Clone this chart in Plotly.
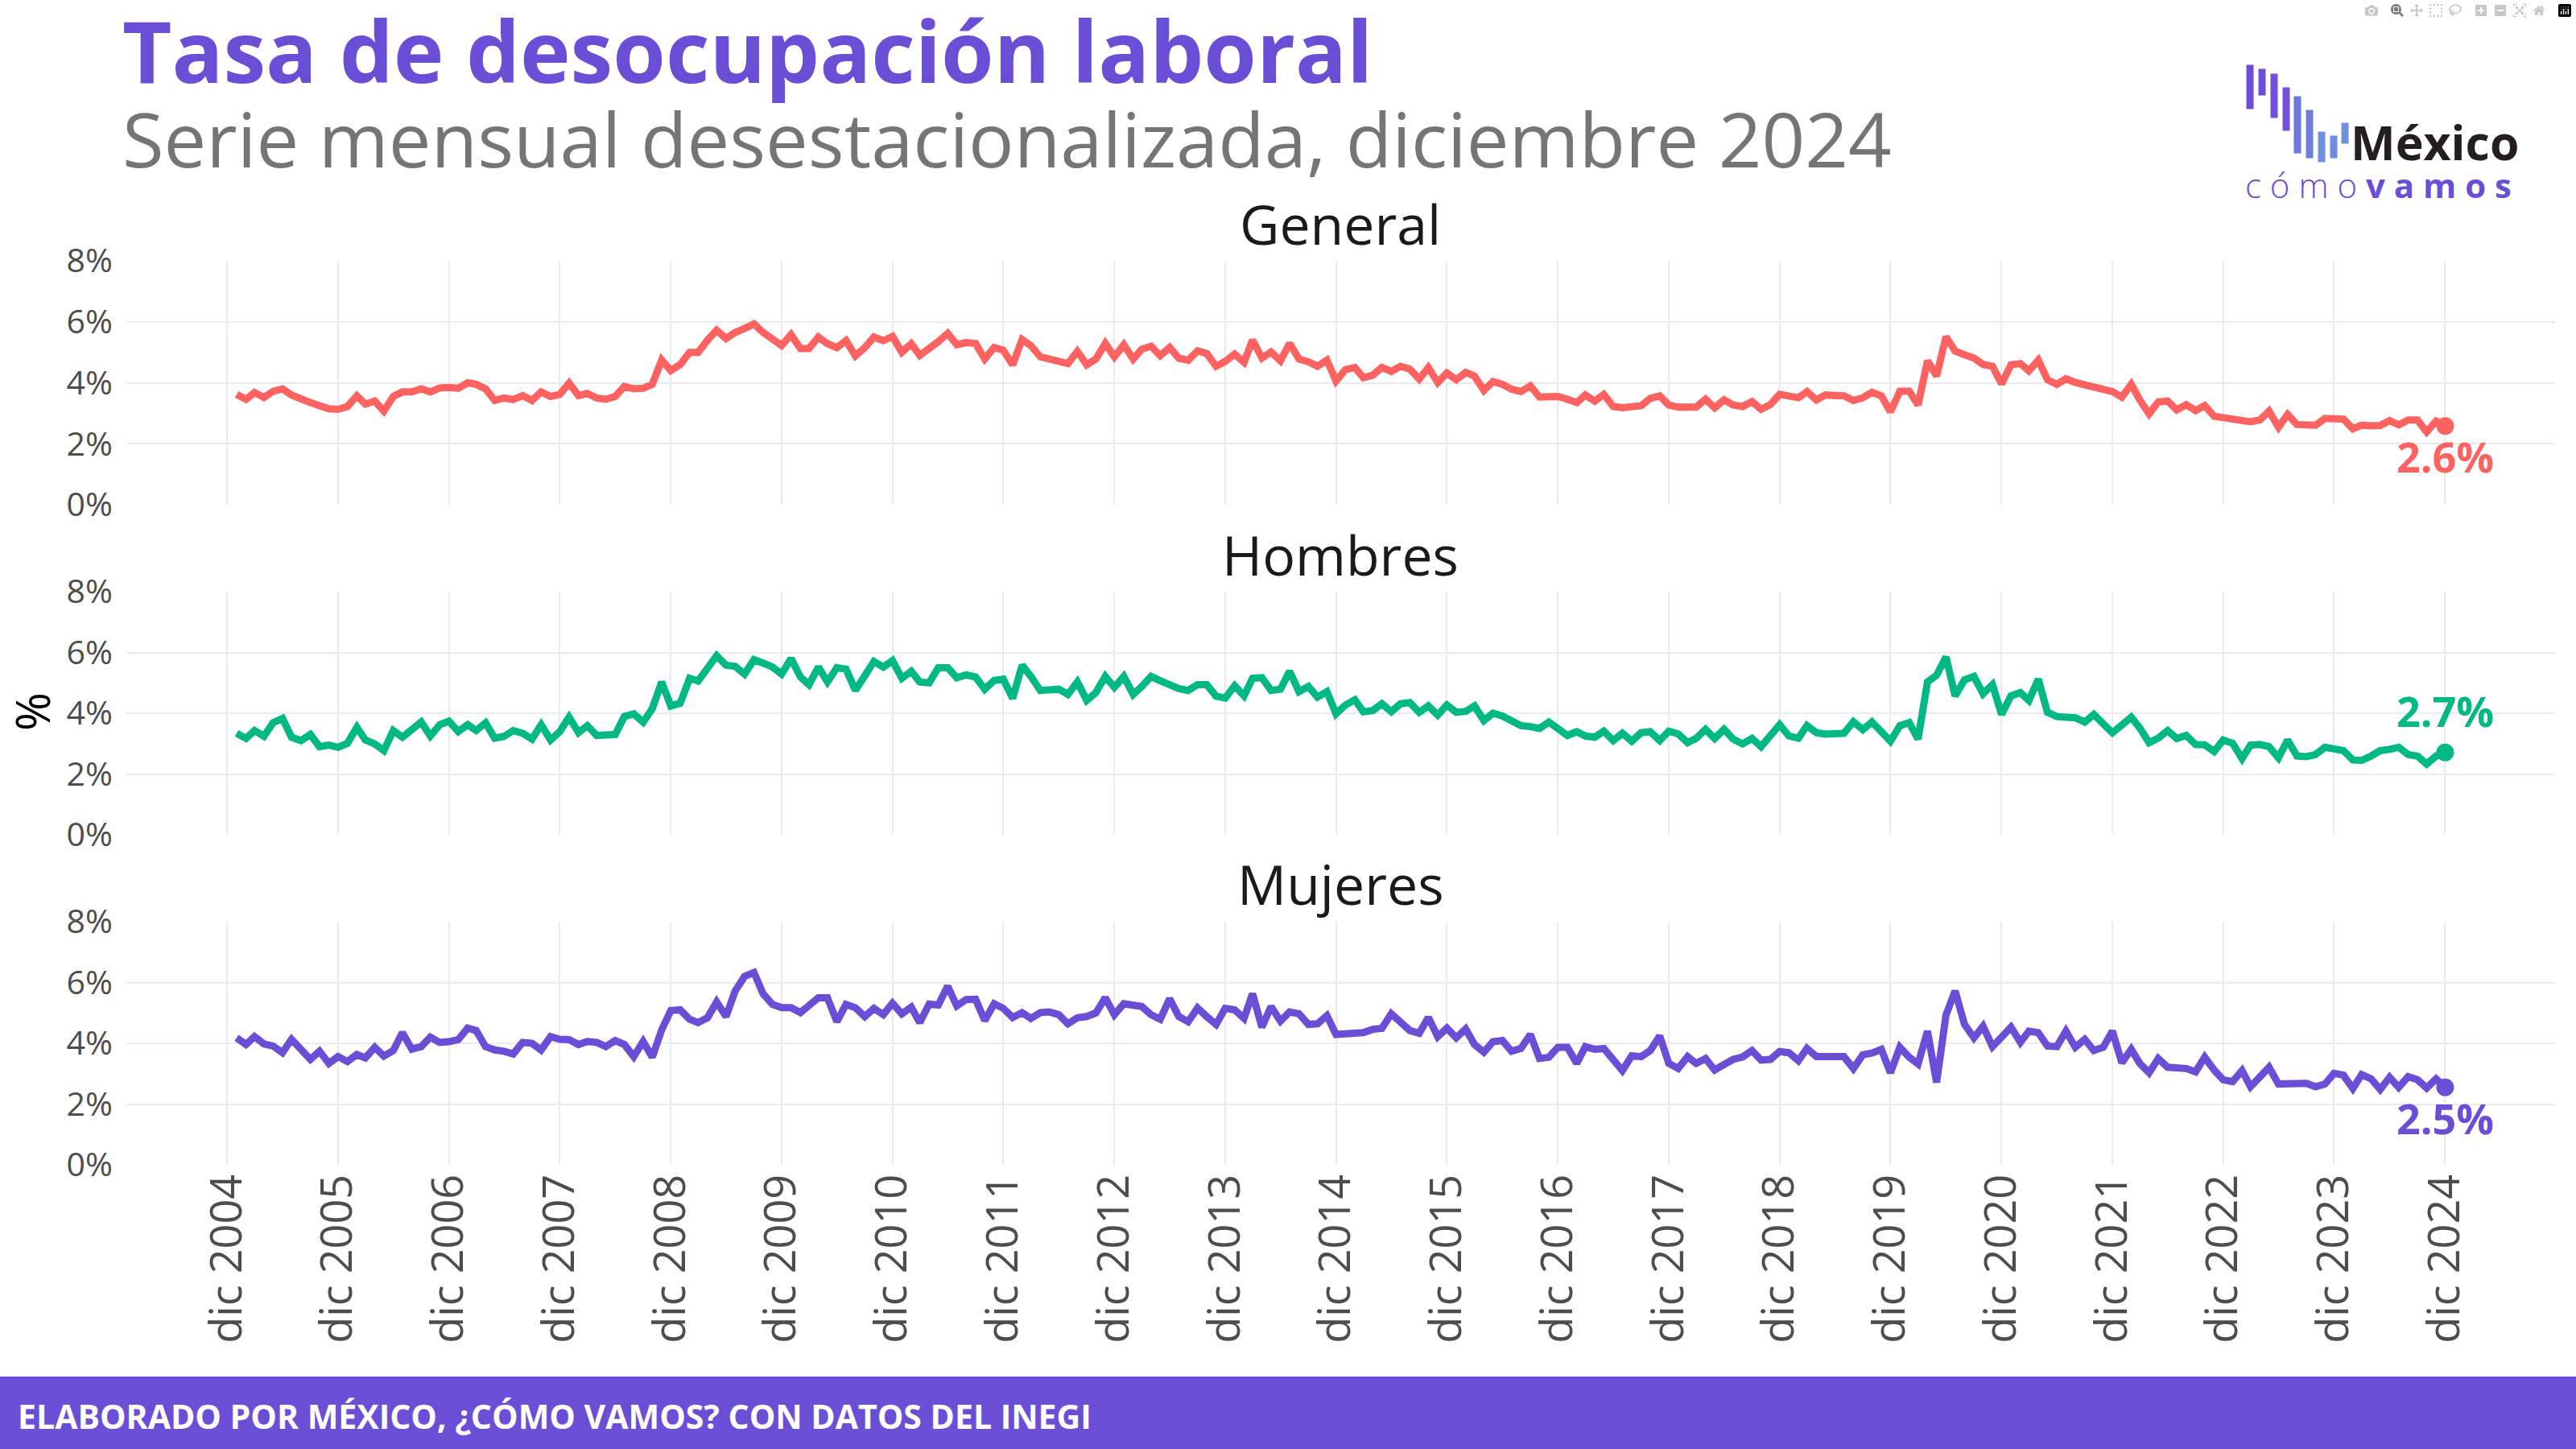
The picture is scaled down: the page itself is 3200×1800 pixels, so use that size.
import plotly.graph_objects as go
import pandas as pd

W, H = 3200, 1800

# ---------------- DATA ----------------
meses = pd.date_range("2005-01-01", "2024-12-01", freq="MS")

general = [
    3.62, 3.46, 3.68, 3.52, 3.72, 3.80, 3.60, 3.45, 3.35, 3.25, 3.15, 3.13,
    3.22, 3.57, 3.30, 3.40, 3.07, 3.55, 3.70, 3.70, 3.80, 3.70, 3.83, 3.85,
    3.82, 4.00, 3.95, 3.80, 3.42, 3.50, 3.45, 3.58, 3.42, 3.70, 3.55, 3.62,
    3.99, 3.58, 3.65, 3.50, 3.46, 3.55, 3.88, 3.80, 3.82, 3.95, 4.75, 4.40,
    4.60, 5.00, 5.00, 5.40, 5.72, 5.45, 5.65, 5.78, 5.93, 5.65, 5.40, 5.22,
    5.58, 5.12, 5.12, 5.50, 5.28, 5.15, 5.38, 4.88, 5.15, 5.50, 5.38, 5.52,
    5.00, 5.28, 4.90, 5.10, 5.35, 5.62, 5.25, 5.32, 5.29, 4.78, 5.16, 5.07,
    4.59, 5.42, 5.22, 4.85, 4.78, 4.76, 4.63, 5.03, 4.59, 4.78, 5.29, 4.85,
    5.25, 4.78, 5.10, 5.20, 4.89, 5.16, 4.81, 4.74, 5.05, 4.96, 4.54, 4.70,
    4.94, 4.67, 5.40, 4.81, 5.01, 4.72, 5.29, 4.78, 4.69, 4.54, 4.74, 4.06,
    4.43, 4.50, 4.17, 4.25, 4.50, 4.37, 4.54, 4.45, 4.12, 4.50, 4.01, 4.32,
    4.10, 4.34, 4.22, 3.75, 4.04, 3.95, 3.79, 3.71, 3.90, 3.53, 3.55, 3.55,
    3.46, 3.35, 3.60, 3.40, 3.62, 3.22, 3.18, 3.22, 3.25, 3.49, 3.57, 3.27,
    3.20, 3.20, 3.20, 3.46, 3.18, 3.44, 3.27, 3.22, 3.38, 3.13, 3.29, 3.62,
    3.55, 3.51, 3.71, 3.44, 3.60, 3.60, 3.57, 3.42, 3.51, 3.69, 3.57, 3.05,
    3.72, 3.72, 3.27, 4.72, 4.22, 5.51, 5.04, 4.92, 4.81, 4.60, 4.54, 3.97,
    4.59, 4.63, 4.39, 4.74, 4.10, 3.95, 4.13, 4.01, 3.94, 3.86, 3.79, 3.71,
    3.53, 3.95, 3.44, 2.98, 3.37, 3.40, 3.11, 3.28, 3.09, 3.25, 2.90, 2.87,
    2.83, 2.78, 2.72, 2.78, 3.07, 2.54, 2.96, 2.63, 2.61, 2.61, 2.83, 2.84,
    2.81, 2.49, 2.61, 2.59, 2.60, 2.76, 2.62, 2.78, 2.78, 2.39, 2.74, 2.58,
]

hombres = [
    3.34, 3.17, 3.43, 3.24, 3.69, 3.83, 3.21, 3.10, 3.30, 2.90, 2.95, 2.88,
    3.01, 3.54, 3.12, 2.99, 2.77, 3.43, 3.21, 3.47, 3.71, 3.25, 3.62, 3.74,
    3.40, 3.62, 3.43, 3.68, 3.18, 3.24, 3.43, 3.34, 3.15, 3.62, 3.12, 3.39,
    3.87, 3.36, 3.59, 3.27, 3.30, 3.30, 3.89, 3.98, 3.71, 4.15, 5.03, 4.24,
    4.33, 5.15, 5.06, 5.50, 5.89, 5.58, 5.54, 5.29, 5.76, 5.65, 5.52, 5.29,
    5.80, 5.19, 4.94, 5.52, 5.03, 5.50, 5.45, 4.75, 5.26, 5.70, 5.52, 5.73,
    5.15, 5.38, 5.03, 5.00, 5.50, 5.50, 5.17, 5.26, 5.19, 4.79, 5.08, 5.12,
    4.49, 5.58, 5.21, 4.75, 4.77, 4.79, 4.62, 5.03, 4.42, 4.68, 5.21, 4.85,
    5.21, 4.62, 4.88, 5.21, 5.07, 4.94, 4.81, 4.75, 4.94, 4.94, 4.56, 4.50,
    4.90, 4.57, 5.15, 5.17, 4.75, 4.79, 5.38, 4.71, 4.88, 4.53, 4.71, 3.98,
    4.27, 4.44, 4.05, 4.09, 4.31, 4.05, 4.31, 4.35, 4.03, 4.24, 3.94, 4.27,
    4.03, 4.06, 4.24, 3.76, 4.00, 3.91, 3.76, 3.59, 3.56, 3.50, 3.71, 3.47,
    3.27, 3.39, 3.25, 3.21, 3.41, 3.10, 3.34, 3.08, 3.36, 3.39, 3.10, 3.41,
    3.32, 3.03, 3.17, 3.47, 3.17, 3.47, 3.15, 2.99, 3.17, 2.90, 3.24, 3.62,
    3.25, 3.18, 3.59, 3.36, 3.31, 3.34, 3.34, 3.72, 3.46, 3.71, 3.43, 3.08,
    3.59, 3.69, 3.15, 5.03, 5.25, 5.85, 4.57, 5.10, 5.21, 4.64, 4.94, 3.96,
    4.57, 4.68, 4.42, 5.12, 4.03, 3.89, 3.87, 3.85, 3.71, 3.96, 3.65, 3.36,
    3.61, 3.87, 3.52, 3.03, 3.18, 3.43, 3.17, 3.27, 2.97, 2.96, 2.74, 3.12,
    3.01, 2.51, 2.95, 2.97, 2.90, 2.53, 3.12, 2.59, 2.57, 2.64, 2.88, 2.81,
    2.77, 2.46, 2.45, 2.59, 2.77, 2.81, 2.88, 2.64, 2.59, 2.33, 2.59, 2.71,
]

mujeres = [
    4.18, 3.96, 4.22, 3.98, 3.91, 3.69, 4.13, 3.83, 3.47, 3.74, 3.34, 3.56,
    3.40, 3.63, 3.52, 3.87, 3.58, 3.76, 4.35, 3.81, 3.89, 4.20, 4.03, 4.05,
    4.12, 4.50, 4.42, 3.89, 3.78, 3.74, 3.65, 4.03, 4.00, 3.78, 4.22, 4.13,
    4.12, 3.96, 4.06, 4.03, 3.89, 4.09, 3.96, 3.56, 4.06, 3.54, 4.44, 5.08,
    5.10, 4.79, 4.68, 4.84, 5.36, 4.88, 5.72, 6.20, 6.33, 5.63, 5.28, 5.17,
    5.17, 5.01, 5.26, 5.50, 5.50, 4.71, 5.28, 5.17, 4.88, 5.15, 4.94, 5.32,
    4.97, 5.19, 4.68, 5.29, 5.26, 5.88, 5.23, 5.44, 5.45, 4.75, 5.30, 5.15,
    4.85, 5.01, 4.82, 5.01, 5.03, 4.94, 4.64, 4.84, 4.88, 5.00, 5.50, 4.94,
    5.30, 5.23, 5.21, 4.94, 4.79, 5.47, 4.88, 4.71, 5.16, 4.88, 4.62, 5.15,
    5.10, 4.82, 5.63, 4.53, 5.21, 4.73, 5.03, 4.97, 4.62, 4.64, 4.91, 4.29,
    4.31, 4.31, 4.35, 4.46, 4.49, 4.97, 4.73, 4.42, 4.33, 4.85, 4.22, 4.50,
    4.18, 4.47, 3.96, 3.71, 4.05, 4.09, 3.74, 3.83, 4.29, 3.50, 3.54, 3.87,
    3.87, 3.34, 3.89, 3.80, 3.83, 3.50, 3.10, 3.59, 3.56, 3.76, 4.24, 3.34,
    3.17, 3.56, 3.34, 3.50, 3.12, 3.30, 3.47, 3.55, 3.76, 3.45, 3.47, 3.73,
    3.69, 3.43, 3.83, 3.56, 3.56, 3.56, 3.56, 3.17, 3.62, 3.68, 3.80, 3.03,
    3.87, 3.54, 3.32, 4.40, 2.71, 4.93, 5.72, 4.62, 4.18, 4.56, 3.89, 4.20,
    4.53, 4.03, 4.40, 4.35, 3.91, 3.89, 4.40, 3.87, 4.13, 3.76, 3.87, 4.40,
    3.36, 3.80, 3.34, 3.03, 3.50, 3.21, 3.18, 3.17, 3.06, 3.54, 3.12, 2.80,
    2.74, 3.10, 2.57, 2.86, 3.21, 2.66, 2.66, 2.66, 2.68, 2.57, 2.66, 3.01,
    2.95, 2.51, 2.97, 2.83, 2.48, 2.88, 2.55, 2.90, 2.80, 2.53, 2.83, 2.55,
]

paneles = ["General", "Hombres", "Mujeres"]
series = [general, hombres, mujeres]
etiquetas_final = ["2.6%", "2.7%", "2.5%"]
tick_fechas = pd.date_range("2004-12-01", "2024-12-01", freq="12MS")
tick_textos = [f"dic {a}" for a in range(2004, 2025)]
y_ticks = [0, 2, 4, 6, 8]
y_tick_textos = ["0%", "2%", "4%", "6%", "8%"]

titulo = "Tasa de desocupación laboral"
subtitulo = "Serie mensual desestacionalizada, diciembre 2024"
pie = "ELABORADO POR MÉXICO, ¿CÓMO VAMOS? CON DATOS DEL INEGI"

# ---------------- STYLE ----------------
colores = ["#ff6361", "#00b884", "#6a4fd6"]
morado = "#6a4fd6"
FONT = "Open Sans"


def fx(p):
    return p / W


def fy(p):
    return 1 - p / H


x_dom = [fx(157), fx(3174)]
panel_px = [(324, 627), (735, 1037), (1145, 1447)]
titulo_panel_px = [278, 688, 1097]
label_shift = [-37, 52, -38]
x_range = ["2004-01-04", "2025-11-28"]

fig = go.Figure()
layout = dict(
    width=W, height=H,
    margin=dict(l=0, r=0, t=0, b=0, autoexpand=False),
    paper_bgcolor="white", plot_bgcolor="white",
    showlegend=False,
    font=dict(family=FONT),
)

annotations = []
shapes = []

for i, (nombre, serie, col) in enumerate(zip(paneles, series, colores)):
    sfx = "" if i == 0 else str(i + 1)
    xa, ya = "x" + sfx, "y" + sfx
    fig.add_trace(go.Scatter(
        x=meses, y=serie, mode="lines",
        line=dict(color=col, width=9),
        xaxis=xa, yaxis=ya, hoverinfo="skip",
    ))
    fig.add_trace(go.Scatter(
        x=[meses[-1]], y=[serie[-1]], mode="markers",
        marker=dict(color=col, size=22),
        xaxis=xa, yaxis=ya, hoverinfo="skip",
    ))
    top, bot = panel_px[i]
    last = i == 2
    layout["xaxis" + sfx] = dict(
        domain=x_dom, anchor=ya, type="date", range=x_range,
        tickmode="array", tickvals=tick_fechas,
        ticktext=tick_textos if last else [""] * len(tick_textos),
        showticklabels=last, tickangle=-90,
        tickfont=dict(size=54, color="#4d4d4d", family=FONT),
        ticks="", showgrid=True, gridcolor="#ebebeb", gridwidth=2,
        zeroline=False, showline=False, automargin=False,
    )
    layout["yaxis" + sfx] = dict(
        domain=[fy(bot), fy(top)], anchor=xa, range=[0, 8],
        tickmode="array", tickvals=y_ticks, ticktext=y_tick_textos,
        tickfont=dict(size=41, color="#4d4d4d", family=FONT),
        ticks="outside", ticklen=8, tickcolor="rgba(0,0,0,0)",
        showgrid=True, gridcolor="#ebebeb", gridwidth=2,
        zeroline=False, showline=False, automargin=False,
    )
    annotations.append(dict(
        text=nombre, xref="paper", yref="paper",
        x=(x_dom[0] + x_dom[1]) / 2, y=fy(titulo_panel_px[i]),
        xanchor="center", yanchor="middle", showarrow=False,
        font=dict(size=68, color="#1a1a1a", family=FONT),
    ))
    annotations.append(dict(
        text=etiquetas_final[i], xref=xa, yref=ya,
        x=meses[-1], y=serie[-1], yshift=label_shift[i],
        xanchor="center", yanchor="middle", showarrow=False,
        font=dict(size=52, color=col, family=FONT, weight=700),
    ))

annotations.append(dict(
    text="%", xref="paper", yref="paper", x=fx(40), y=fy(884),
    xanchor="center", yanchor="middle", textangle=-90, showarrow=False,
    font=dict(size=58, color="black", family=FONT),
))

annotations.append(dict(
    text=titulo, xref="paper", yref="paper", x=fx(150), y=fy(62),
    xanchor="left", yanchor="middle", showarrow=False,
    font=dict(size=106, color=morado, family=FONT, weight=700),
))
annotations.append(dict(
    text=subtitulo, xref="paper", yref="paper", x=fx(150), y=fy(172),
    xanchor="left", yanchor="middle", showarrow=False,
    font=dict(size=94, color="#757575", family=FONT),
))

shapes.append(dict(
    type="rect", xref="paper", yref="paper", x0=0, x1=1, y0=0, y1=fy(1710),
    fillcolor=morado, line=dict(width=0), layer="above",
))
annotations.append(dict(
    text=pie, xref="paper", yref="paper", x=fx(20), y=fy(1759),
    xanchor="left", yanchor="middle", showarrow=False,
    font=dict(size=41, color="white", family=FONT, weight=700),
))

# logo
barras = [(2790, 80, 136), (2805, 85, 119), (2820, 91, 147), (2835, 108, 163),
          (2849, 119, 191), (2864, 136, 197), (2879, 163, 202), (2894, 168, 197),
          (2908, 152, 179)]
barras_col = ["#6a4fd6", "#6a4fd6", "#6f52d9", "#7150da", "#6f78dc",
              "#6f7edc", "#6f8fdf", "#6f8cde", "#6f8fdf"]
for (bx, t, b), c in zip(barras, barras_col):
    shapes.append(dict(
        type="rect", xref="paper", yref="paper",
        x0=fx(bx), x1=fx(bx + 10), y0=fy(b), y1=fy(t),
        fillcolor=c, line=dict(width=1, color="white"), layer="above",
    ))
annotations.append(dict(
    text="México", xref="paper", yref="paper", x=fx(2918), y=fy(176),
    xanchor="left", yanchor="middle", showarrow=False,
    font=dict(size=59, color="#231f20", family=FONT, weight=700),
))
annotations.append(dict(
    text="<span style='font-weight:300'>c ó m o </span><b>v a m o s</b>",
    xref="paper", yref="paper", x=fx(2787), y=fy(230),
    xanchor="left", yanchor="middle", showarrow=False,
    font=dict(size=42, color=morado, family=FONT),
))

layout["annotations"] = annotations
layout["shapes"] = shapes
fig.update_layout(**layout)

fig.write_html("out.html", post_script="document.body.style.margin='0';")
